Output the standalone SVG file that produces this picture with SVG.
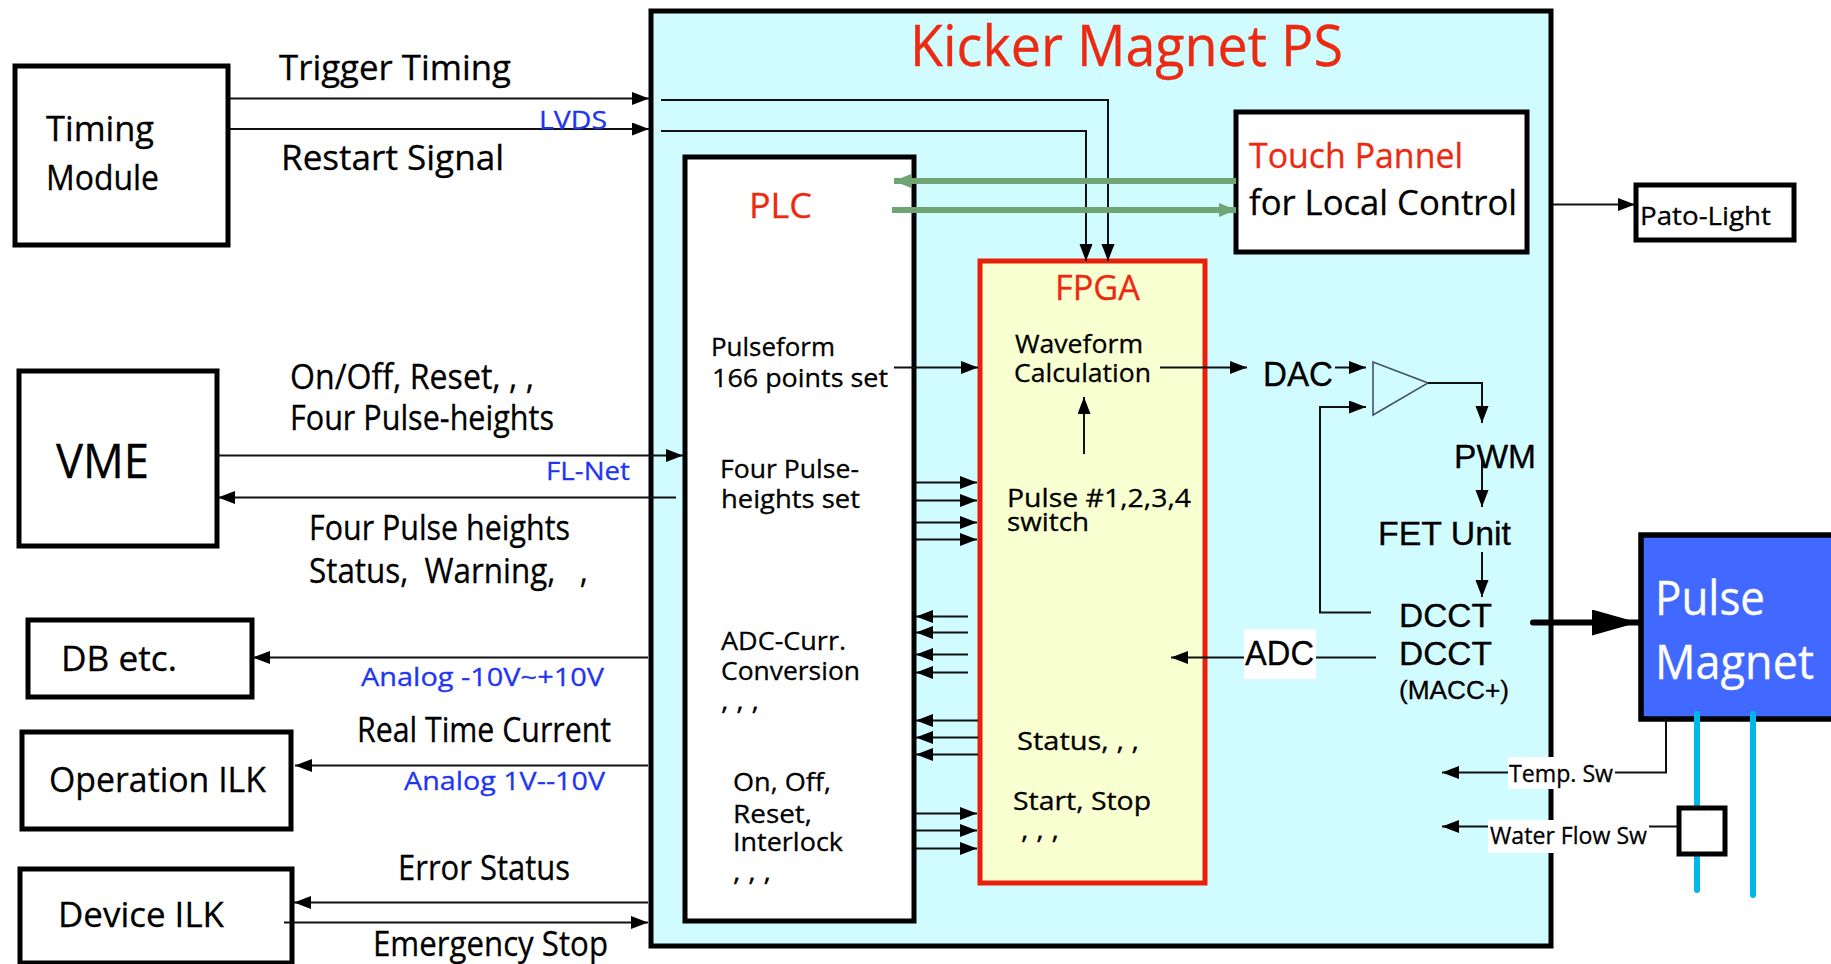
<svg xmlns="http://www.w3.org/2000/svg" width="1831" height="964" viewBox="0 0 1831 964">
<style>
text{font-family:"Open Sans","Liberation Sans",sans-serif;fill:#000;stroke:#000;stroke-width:.3;transform:translateY(1px)}
.h{font-family:"Liberation Sans",Arial,sans-serif}
.b{fill:#1f35f0;stroke:#1f35f0}
.r{fill:#ec2a12;stroke:#ec2a12}
.w{fill:#fff;stroke:#fff}
.box{fill:#fff;stroke:#000;stroke-width:5}
.c{fill:none;stroke:#111;stroke-width:2;marker-end:url(#a)}
.n{fill:none;stroke:#111;stroke-width:2}
.g{fill:none;stroke:#6fa572;stroke-width:6;marker-end:url(#ga)}
.cw{fill:none;stroke:#00b8ec;stroke-width:6;stroke-linecap:round}
</style>
<defs>
<marker id="a" markerUnits="userSpaceOnUse" markerWidth="18" markerHeight="14" refX="17" refY="6.500" orient="auto"><path d="M0 0L17 6.500L0 13Z" fill="#000"/></marker>
<marker id="ga" markerUnits="userSpaceOnUse" markerWidth="18" markerHeight="14" refX="17" refY="7" orient="auto"><path d="M0 0L17 7L0 14Z" fill="#6fa572"/></marker>
<marker id="ta" markerUnits="userSpaceOnUse" markerWidth="48" markerHeight="27" refX="46" refY="13" orient="auto"><path d="M0 0L46 13L0 26Z" fill="#000"/></marker>
</defs>
<g id="kicker-ps"><rect x="651" y="11" width="900" height="935" fill="#d0fbff" stroke="#000" stroke-width="5"/>
<text class="r" x="910" y="65" font-size="56" textLength="433" lengthAdjust="spacingAndGlyphs">Kicker Magnet PS</text></g>
<g id="timing-module"><rect class="box" x="15" y="66" width="213" height="179"/>
<text x="46" y="140" font-size="34" textLength="108" lengthAdjust="spacingAndGlyphs">Timing</text>
<text x="46" y="189" font-size="34" textLength="113" lengthAdjust="spacingAndGlyphs">Module</text></g>
<g id="vme"><rect class="box" x="19" y="371" width="198" height="175"/>
<text x="56" y="477" font-size="47" textLength="93" lengthAdjust="spacingAndGlyphs">VME</text></g>
<g id="db"><rect class="box" x="28" y="620" width="224" height="77"/>
<text x="61" y="670" font-size="34" textLength="116" lengthAdjust="spacingAndGlyphs">DB etc.</text></g>
<g id="operation-ilk"><rect class="box" x="22" y="732" width="269" height="97"/>
<text x="49" y="791" font-size="34" textLength="217" lengthAdjust="spacingAndGlyphs">Operation ILK</text></g>
<g id="device-ilk"><rect class="box" x="20" y="869" width="272" height="94"/>
<text x="58" y="926" font-size="34" textLength="166" lengthAdjust="spacingAndGlyphs">Device ILK</text></g>
<g id="plc"><rect class="box" x="685" y="157" width="229" height="764"/>
<text class="r" x="749" y="217" font-size="34" textLength="63" lengthAdjust="spacingAndGlyphs">PLC</text>
<text x="711" y="355" font-size="26" textLength="124" lengthAdjust="spacingAndGlyphs">Pulseform</text>
<text x="712" y="386" font-size="26" textLength="176" lengthAdjust="spacingAndGlyphs">166 points set</text>
<text x="720" y="477" font-size="26" textLength="139" lengthAdjust="spacingAndGlyphs">Four Pulse-</text>
<text x="721" y="507" font-size="26" textLength="139" lengthAdjust="spacingAndGlyphs">heights set</text>
<text x="721" y="649" font-size="26" textLength="125" lengthAdjust="spacingAndGlyphs">ADC-Curr.</text>
<text x="721" y="679" font-size="26" textLength="139" lengthAdjust="spacingAndGlyphs">Conversion</text>
<text x="721" y="709" font-size="26" textLength="38" lengthAdjust="spacingAndGlyphs">, , ,</text>
<text x="733" y="790" font-size="26" textLength="98" lengthAdjust="spacingAndGlyphs">On, Off,</text>
<text x="733" y="822" font-size="26" textLength="79" lengthAdjust="spacingAndGlyphs">Reset,</text>
<text x="733" y="850" font-size="26" textLength="110" lengthAdjust="spacingAndGlyphs">Interlock</text>
<text x="733" y="880" font-size="26" textLength="38" lengthAdjust="spacingAndGlyphs">, , ,</text></g>
<g id="fpga"><rect x="980" y="261" width="225" height="622" fill="#f8ffd0" stroke="#e8200a" stroke-width="5"/>
<text class="r" x="1055" y="299" font-size="34" textLength="85" lengthAdjust="spacingAndGlyphs">FPGA</text>
<text x="1015" y="352" font-size="26" textLength="128" lengthAdjust="spacingAndGlyphs">Waveform</text>
<text x="1014" y="381" font-size="26" textLength="137" lengthAdjust="spacingAndGlyphs">Calculation</text>
<text x="1007" y="506" font-size="26" textLength="184" lengthAdjust="spacingAndGlyphs">Pulse #1,2,3,4</text>
<text x="1007" y="530" font-size="26" textLength="82" lengthAdjust="spacingAndGlyphs">switch</text>
<text x="1017" y="749" font-size="26" textLength="122" lengthAdjust="spacingAndGlyphs">Status, , ,</text>
<text x="1013" y="809" font-size="26" textLength="138" lengthAdjust="spacingAndGlyphs">Start, Stop</text>
<text x="1021" y="838" font-size="26" textLength="38" lengthAdjust="spacingAndGlyphs">, , ,</text></g>
<g id="touch-panel"><rect class="box" x="1236" y="112" width="291" height="140"/>
<text class="r" x="1249" y="167" font-size="34" textLength="214" lengthAdjust="spacingAndGlyphs">Touch Pannel</text>
<text x="1249" y="214" font-size="34" textLength="268" lengthAdjust="spacingAndGlyphs">for Local Control</text></g>
<g id="pato-light"><rect class="box" x="1636" y="185" width="158" height="55"/>
<text x="1640" y="224" font-size="26" textLength="131" lengthAdjust="spacingAndGlyphs">Pato-Light</text></g>
<g id="amp"><path d="M1373 362L1428 383L1373 415Z" fill="none" stroke="#456" stroke-width="1.6"/></g>
<g id="dac"><text class="h" x="1263" y="385" font-size="35" textLength="70" lengthAdjust="spacingAndGlyphs">DAC</text></g>
<g id="pwm"><text class="h" x="1454" y="467" font-size="33" textLength="82" lengthAdjust="spacingAndGlyphs">PWM</text></g>
<g id="fet-unit"><text class="h" x="1378" y="544" font-size="33" textLength="133" lengthAdjust="spacingAndGlyphs">FET Unit</text></g>
<g id="dcct"><text class="h" x="1399" y="626" font-size="33" textLength="93" lengthAdjust="spacingAndGlyphs">DCCT</text>
<text class="h" x="1399" y="664" font-size="33" textLength="93" lengthAdjust="spacingAndGlyphs">DCCT</text>
<text class="h" x="1399" y="698" font-size="26" textLength="110" lengthAdjust="spacingAndGlyphs">(MACC+)</text></g>
<g id="pulse-magnet"><rect x="1641" y="535" width="200" height="184" fill="#4169ff" stroke="#000" stroke-width="5.500"/>
<text class="w" x="1655" y="614" font-size="47" textLength="110" lengthAdjust="spacingAndGlyphs">Pulse</text>
<text class="w" x="1655" y="678" font-size="47" textLength="159" lengthAdjust="spacingAndGlyphs">Magnet</text></g>
<g id="connectors">
<path class="c" d="M230 98.500H649"/>
<path class="c" d="M230 129H649"/>
<path class="c" d="M661 100H1108V261"/>
<path class="c" d="M661 131H1086V261"/>
<path class="g" d="M1236 181H894"/>
<path class="g" d="M892 210H1236"/>
<path class="c" d="M217 455.500H683"/>
<path class="c" d="M676 497.500H218"/>
<path class="c" d="M648 657.500H253"/>
<path class="c" d="M648 765.500H295"/>
<path class="c" d="M648 902.500H294"/>
<path class="c" d="M284 922.500H648"/>
<path class="c" d="M1553 204.500H1635"/>
<path class="c" d="M894 367.500H978"/>
<path class="c" d="M1160 367.500H1247"/>
<path class="c" d="M1084 454V397"/>
<path class="c" d="M1335 367.500H1366"/>
<path class="c" d="M1428 383H1482V423"/>
<path class="c" d="M1482 460V507"/>
<path class="c" d="M1482 552V597"/>
<path class="c" d="M1371 612.500H1320V407H1366"/>
<path class="n" d="M1376 657.500H1300"/>
<path class="c" d="M1260 657.500H1171"/>
<path class="c" d="M916 482.500H977"/>
<path class="c" d="M916 500.500H977"/>
<path class="c" d="M916 522.500H977"/>
<path class="c" d="M916 539.500H977"/>
<path class="c" d="M968 616.500H916"/>
<path class="c" d="M968 632.500H916"/>
<path class="c" d="M968 654.500H916"/>
<path class="c" d="M968 672.500H916"/>
<path class="c" d="M978 720.500H916"/>
<path class="c" d="M978 737.500H916"/>
<path class="c" d="M978 754.500H916"/>
<path class="c" d="M916 813.500H977"/>
<path class="c" d="M916 830.500H977"/>
<path class="c" d="M916 848.500H977"/>
<path d="M1533 622.500H1638" fill="none" stroke="#000" stroke-width="6" stroke-linecap="round" marker-end="url(#ta)"/>
<path class="c" d="M1666 718V772.500H1442"/>
<path class="c" d="M1678 826.500H1442"/>
<path class="cw" d="M1697 714V890"/>
<path class="cw" d="M1753 714V895"/>
</g>
<g id="labels">
<text x="279" y="79" font-size="34" textLength="232" lengthAdjust="spacingAndGlyphs">Trigger Timing</text>
<text x="281" y="169" font-size="34" textLength="223" lengthAdjust="spacingAndGlyphs">Restart Signal</text>
<text class="b" x="539" y="128" font-size="26" textLength="68" lengthAdjust="spacingAndGlyphs">LVDS</text>
<text x="290" y="388" font-size="34" textLength="244" lengthAdjust="spacingAndGlyphs">On/Off, Reset, , ,</text>
<text x="290" y="429" font-size="34" textLength="264" lengthAdjust="spacingAndGlyphs">Four Pulse-heights</text>
<text class="b" x="546" y="479" font-size="26" textLength="84" lengthAdjust="spacingAndGlyphs">FL-Net</text>
<text x="309" y="539" font-size="34" textLength="261" lengthAdjust="spacingAndGlyphs">Four Pulse heights</text>
<text x="309" y="582" font-size="34" textLength="279" lengthAdjust="spacingAndGlyphs" xml:space="preserve">Status,  Warning,   ,</text>
<text class="b" x="361" y="685" font-size="26" textLength="243" lengthAdjust="spacingAndGlyphs">Analog -10V~+10V</text>
<text x="357" y="741" font-size="34" textLength="254" lengthAdjust="spacingAndGlyphs">Real Time Current</text>
<text class="b" x="404" y="789" font-size="26" textLength="201" lengthAdjust="spacingAndGlyphs">Analog 1V--10V</text>
<text x="398" y="879" font-size="34" textLength="172" lengthAdjust="spacingAndGlyphs">Error Status</text>
<text x="373" y="955" font-size="34" textLength="235" lengthAdjust="spacingAndGlyphs">Emergency Stop</text>
<g id="adc-label"><rect x="1244" y="629" width="72" height="50" fill="#fff"/><text class="h" x="1245" y="664" font-size="35" textLength="69" lengthAdjust="spacingAndGlyphs">ADC</text></g>
<g id="temp-label"><rect x="1508" y="757" width="107" height="32" fill="#fff"/><text x="1509" y="781" font-size="24" textLength="104" lengthAdjust="spacingAndGlyphs">Temp. Sw</text></g>
<g id="water-label"><rect x="1488" y="820" width="161" height="33" fill="#fff"/><text x="1490" y="843" font-size="24" textLength="157" lengthAdjust="spacingAndGlyphs">Water Flow Sw</text></g>
</g>
<g id="flow-switch"><rect class="box" x="1679" y="808" width="46" height="46"/></g>
</svg>
